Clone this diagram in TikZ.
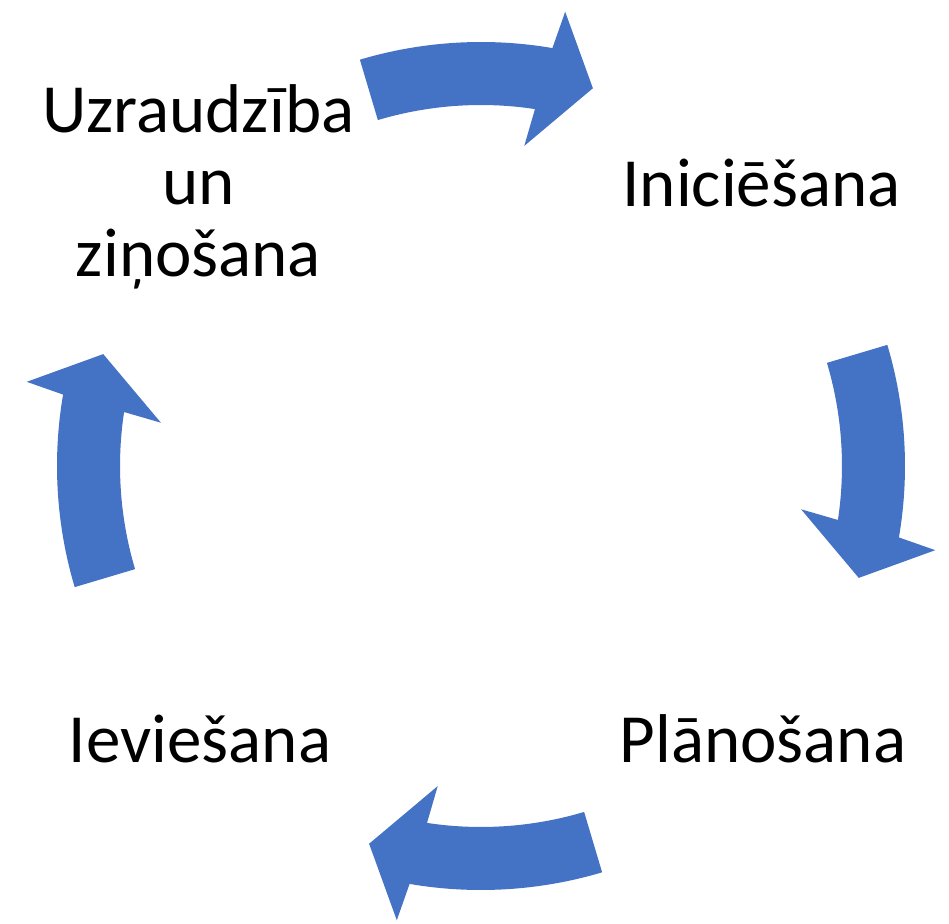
\documentclass[tikz,border=0pt]{standalone}
\usepackage{fontspec}
\setmainfont{Carlito}
\usepackage{tikz}
\usetikzlibrary{positioning}

\definecolor{cycleblue}{HTML}{4472C4}

\begin{document}
\begin{tikzpicture}[x=1pt,y=1pt,
		phasetext/.style={anchor=base, inner sep=0pt, font=\fontsize{69}{72}\selectfont},
		cyclefill/.style={fill=cycleblue, draw=none}]
			\useasboundingbox (-481,-457) rectangle (468,466);
			
			\node[phasetext] (ini) at (280.5,259) {Iniciēšana};
			\node[phasetext] (plan) at (282,-296) {Plānošana};
			\node[phasetext] (iev) at (-281,-296) {Ieviešana};
			\node[phasetext, align=center] (uzr) at (-282.5,189) {Uzraudzība\\un\\ziņošana};
			
			\foreach \rot in {0,-90,-180,-270}{
				\fill[cyclefill, rotate=\rot] (106.6:424) arc[start angle=106.6, end angle=80.3, radius=424]
					-- (79.5:462) -- (73.5:394) -- (82.3:323) -- (81.4:361)
					arc[start angle=81.4, end angle=106.6, radius=361] -- cycle;
			}
		\end{tikzpicture}
\end{document}
